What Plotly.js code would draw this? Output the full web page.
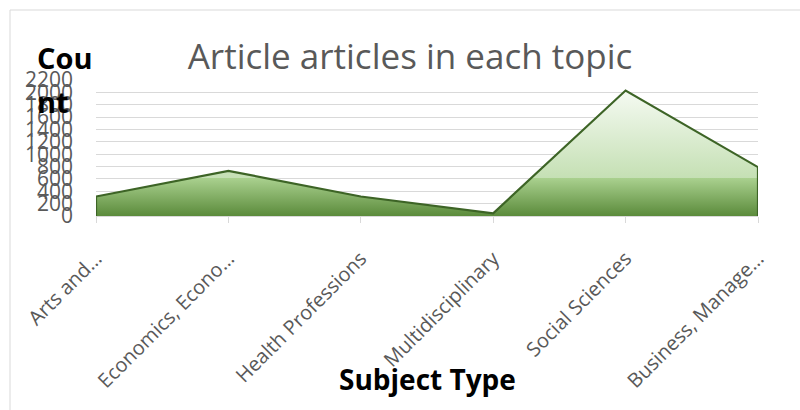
<!DOCTYPE html>
<html>
<head>
<meta charset="utf-8">
<script src="https://cdn.plot.ly/plotly-3.0.1.min.js"></script>
<style>
  html, body { margin: 0; padding: 0; background: #ffffff; }
  #chart { width: 800px; height: 410px; }
</style>
</head>
<body>
<div id="chart"></div>
<script>
// Article counts per subject area
const subjects = ["Arts and…", "Economics, Econo…", "Health Professions", "Multidisciplinary", "Social Sciences", "Business, Manage…"];
const counts = [315, 730, 315, 45, 2030, 790];

// Y-axis tick values and their labels
const yTickVals = [0, 200, 400, 600, 800, 1000, 1200, 1400, 1600, 1800, 2000, 2200];
const yTickText = ["0", "200", "400", "600", "800", "1000", "1200", "1400", "1600", "1800", "2000", "2200"];

// Close the area down to the baseline at both ends so the outline wraps the shape
const areaX = [subjects[0]].concat(subjects, [subjects[subjects.length - 1]]);
const areaY = [0].concat(counts, [0]);

const grey = "#595959";
const font = "'Open Sans', 'Segoe UI', 'DejaVu Sans', sans-serif";

const trace = {
  type: "scatter",
  mode: "lines",
  x: areaX,
  y: areaY,
  fill: "toself",
  fillgradient: {
    type: "vertical",
    colorscale: [
      [0, "#5b8b3b"],
      [0.3, "#a9d08e"],
      [0.301, "#c5e0b4"],
      [1, "#f5faf2"]
    ]
  },
  line: { color: "#3d6426", width: 2.2 },
  hoverinfo: "skip"
};

// Plot-area pixel geometry helpers for placing paper-referenced items
const L = 96, R = 758, T = 80, B = 216;
const px = v => (v - L) / (R - L);
const py = v => (B - v) / (B - T);

const layout = {
  width: 800,
  height: 410,
  margin: { l: L, r: 800 - R, t: T, b: 410 - B, pad: 0 },
  paper_bgcolor: "#ffffff",
  plot_bgcolor: "#ffffff",
  showlegend: false,
  font: { family: font, color: grey },
  title: {
    text: "Article articles in each topic",
    font: { family: font, size: 35, color: grey },
    xref: "container", x: 410 / 800, xanchor: "center",
    yref: "container", y: 1 - 57 / 410, yanchor: "middle"
  },
  xaxis: {
    type: "category",
    range: [0, subjects.length - 1],
    tickangle: -45,
    tickfont: { family: font, size: 20, color: grey },
    ticks: "outside",
    ticklen: 6,
    tickcolor: "#d9d9d9",
    ticklabelstandoff: 16,
    showline: true,
    linecolor: "#d9d9d9",
    linewidth: 1,
    showgrid: false,
    zeroline: false,
    fixedrange: true
  },
  yaxis: {
    range: [0, 2200],
    tickvals: yTickVals,
    ticktext: yTickText,
    tickfont: { family: font, size: 21, color: grey },
    ticklabelstandoff: 22,
    showgrid: true,
    gridcolor: "#d9d9d9",
    gridwidth: 1,
    zeroline: false,
    showline: false,
    ticks: "",
    fixedrange: true
  },
  shapes: [
    {
      type: "rect", xref: "paper", yref: "paper", layer: "below",
      x0: px(10), x1: px(806), y0: py(416), y1: py(10),
      line: { color: "#d9d9d9", width: 1 }, fillcolor: "rgba(0,0,0,0)"
    }
  ],
  annotations: [
    {
      text: "<b>Cou</b>", xref: "paper", yref: "paper",
      x: px(35), y: py(58), xanchor: "left", yanchor: "middle",
      showarrow: false, font: { family: font, size: 29, color: "#000000" }
    },
    {
      text: "<b>nt</b>", xref: "paper", yref: "paper",
      x: px(35), y: py(101), xanchor: "left", yanchor: "middle",
      showarrow: false, font: { family: font, size: 29, color: "#000000" }
    },
    {
      text: "<b>Subject Type</b>", xref: "paper", yref: "paper",
      x: px(427), y: py(379), xanchor: "center", yanchor: "middle",
      showarrow: false, font: { family: font, size: 28, color: "#000000" }
    }
  ]
};

Plotly.newPlot("chart", [trace], layout, { staticPlot: true, displayModeBar: false });
</script>
</body>
</html>
